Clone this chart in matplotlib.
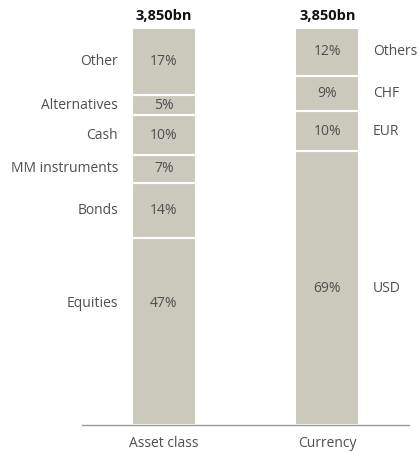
import matplotlib.pyplot as plt
import numpy as np

plt.rcParams['font.family'] = ['Open Sans', 'DejaVu Sans']

total = "3,850bn"
groups = ["Asset class", "Currency"]
asset_names = ["Equities", "Bonds", "MM instruments", "Cash", "Alternatives", "Other"]
asset_share = [47, 14, 7, 10, 5, 17]
ccy_names = ["USD", "EUR", "CHF", "Others"]
ccy_share = [69, 10, 9, 12]

fill = "#cbc9bc"
txt = "#4f4f4f"

fig = plt.figure(figsize=(4.19, 4.54), dpi=100)
ax = fig.add_axes([82 / 419, 29 / 454, 327 / 419, 397 / 454])

w = 0.39
for xpos, shares, names, side in [(0, asset_share, asset_names, "left"),
                                  (1, ccy_share, ccy_names, "right")]:
    bottoms = np.concatenate([[0], np.cumsum(shares)[:-1]])
    ax.bar([xpos] * len(shares), shares, bottom=bottoms, width=w,
           color=fill, edgecolor="white", linewidth=1.5)
    for i, (b, s, n) in enumerate(zip(bottoms, shares, names)):
        # the big equities block has its label set higher up
        yc = b + s * (0.65 if (side == "left" and i == 0) else 0.5)
        ax.text(xpos, yc, f"{s}%", ha="center", va="center",
                fontsize=10, color=txt)
        if side == "left":
            ax.text(xpos - w / 2 - 0.085, yc, n, ha="right", va="center",
                    fontsize=10, color=txt)
        else:
            ax.text(xpos + w / 2 + 0.085, yc, n, ha="left", va="center",
                    fontsize=10, color=txt)
    ax.text(xpos, 101.3, total, ha="center", va="bottom",
            fontsize=10.5, fontweight="bold", color="#111111")

ax.set_xlim(-0.5, 1.5)
ax.set_ylim(0, 100)
ax.set_xticks([0, 1])
ax.set_xticklabels(groups, fontsize=10, color=txt)
ax.tick_params(axis="x", length=0, pad=8)
ax.set_yticks([])
for sp in ["top", "left", "right"]:
    ax.spines[sp].set_visible(False)
ax.spines["bottom"].set_color("#999999")
ax.spines["bottom"].set_linewidth(1)

fig.savefig("out.png", dpi=100)
